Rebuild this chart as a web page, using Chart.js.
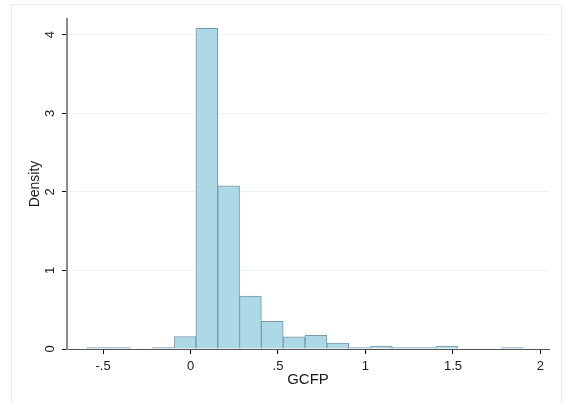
<!DOCTYPE html>
<html>
<head>
<meta charset="utf-8">
<script src="https://cdn.jsdelivr.net/npm/chart.js@4/dist/chart.umd.min.js"></script>
<style>
  html, body { margin: 0; padding: 0; background: #fff; }
  #wrap { position: relative; width: 564px; height: 405px; }
  #frame { position: absolute; left: 11px; top: 4px; width: 551px; height: 410px;
           border: 1px solid #e6eef0; box-sizing: border-box; }
</style>
</head>
<body>
<div id="wrap">
  <div id="frame"></div>
  <canvas id="hist" width="564" height="405"></canvas>
</div>
<script>
'use strict';

// Bin midpoints of GCFP (bin width ~0.1247), and density per bin
const binMid   = [-0.5306, -0.4059, -0.2811, -0.1564, -0.0316, 0.0931, 0.2179, 0.3426, 0.4674, 0.5921,
                   0.7169, 0.8416, 0.9664, 1.0911, 1.2159, 1.3406, 1.4654, 1.5901, 1.7149, 1.8396];
const density  = [0.019, 0.019, 0, 0.019, 0.157, 4.08, 2.077, 0.675, 0.352, 0.155,
                  0.174, 0.076, 0.019, 0.038, 0.019, 0.019, 0.038, 0, 0, 0.019];
const xTicks   = [-0.5, 0, 0.5, 1, 1.5, 2];
const yTicks   = [0, 1, 2, 3, 4];

// Stata-style labels: drop the leading zero
function stataFmt(v) {
  return String(v).replace(/^(-?)0\./, '$1.');
}

const points = binMid
  .map((x, i) => ({ x, y: density[i] }))
  .filter(p => p.y > 0);

const FONT = "'Liberation Sans', Arial, sans-serif";
const INK  = '#1a1a1a';

new Chart(document.getElementById('hist'), {
  type: 'bar',
  data: {
    datasets: [{
      data: points,
      backgroundColor: '#add8e6',
      borderColor: '#7c97ab',
      borderWidth: 1,
      borderSkipped: 'bottom',
      barPercentage: 1,
      categoryPercentage: 1,
    }],
  },
  options: {
    responsive: false,
    animation: false,
    layout: { padding: { left: 0, top: 19, right: 15, bottom: 0 } },
    plugins: { legend: { display: false }, tooltip: { enabled: false } },
    scales: {
      x: {
        type: 'linear',
        offset: false,
        min: -0.706,
        max: 2.049,
        afterBuildTicks: s => { s.ticks = xTicks.map(v => ({ value: v })); },
        afterFit: s => { s.height = 56; },
        ticks: {
          color: INK,
          font: { family: FONT, size: 13 },
          padding: 5,
          maxRotation: 0,
          callback: v => stataFmt(v),
        },
        grid: { offset: false, drawOnChartArea: false, tickLength: 5, tickColor: '#000', tickWidth: 1 },
        border: { color: '#555', width: 1 },
        title: {
          display: true,
          text: 'GCFP',
          color: INK,
          font: { family: FONT, size: 15 },
          padding: { top: 0, bottom: 16 },
        },
      },
      y: {
        min: 0,
        max: 4.2,
        afterBuildTicks: s => { s.ticks = yTicks.map(v => ({ value: v })); },
        afterFit: s => { s.width = 67; },
        ticks: {
          color: INK,
          font: { family: FONT, size: 13 },
          padding: 8,
          minRotation: 90,
          maxRotation: 90,
          crossAlign: 'center',
        },
        grid: {
          color: ctx => (ctx.tick && ctx.tick.value === 0 ? 'rgba(0,0,0,0)' : '#eaf2f3'),
          lineWidth: 1,
          tickLength: 5,
          tickColor: '#000',
        },
        border: { color: '#8a8a8a', width: 2 },
        title: {
          display: true,
          text: 'Density',
          color: INK,
          font: { family: FONT, size: 14 },
          padding: { top: 27, bottom: 0 },
        },
      },
    },
  },
});
</script>
</body>
</html>
